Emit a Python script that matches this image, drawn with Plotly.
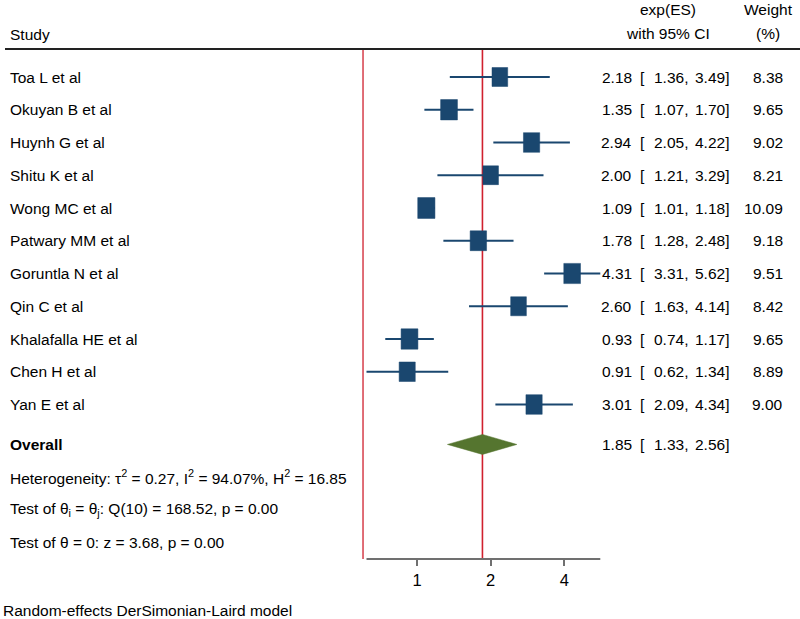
import math
import plotly.graph_objects as go

# ---------------- data ----------------
studies = ["Toa L et al", "Okuyan B et al", "Huynh G et al", "Shitu K et al",
           "Wong MC et al", "Patwary MM et al", "Goruntla N et al", "Qin C et al",
           "Khalafalla HE et al", "Chen H et al", "Yan E et al"]
es = [2.18, 1.35, 2.94, 2.00, 1.09, 1.78, 4.31, 2.60, 0.93, 0.91, 3.01]
lo = [1.36, 1.07, 2.05, 1.21, 1.01, 1.28, 3.31, 1.63, 0.74, 0.62, 2.09]
hi = [3.49, 1.70, 4.22, 3.29, 1.18, 2.48, 5.62, 4.14, 1.17, 1.34, 4.34]
weights = [8.38, 9.65, 9.02, 8.21, 10.09, 9.18, 9.51, 8.42, 9.65, 8.89, 9.00]
overall_es, overall_lo, overall_hi = 1.85, 1.33, 2.56
ref_line = 0.6
tick_vals = [1, 2, 4]
tick_text = ["1", "2", "4"]
stats_lines = [
    "Heterogeneity: τ<sup>2</sup> = 0.27, I<sup>2</sup> = 94.07%, H<sup>2</sup> = 16.85",
    "Test of θ<sub>i</sub> = θ<sub>j</sub>: Q(10) = 168.52, p = 0.00",
    "Test of θ = 0: z = 3.68, p = 0.00",
]
footnote = "Random-effects DerSimonian-Laird model"

# ---------------- styling ----------------
W, H = 800, 619
NAVY = "#1a476f"
GREEN = "#55752f"
RED = "#d0202e"
GRAY = "#707070"
FONT = "Liberation Sans, Arial, sans-serif"
FS = 15.5
PX_PER_DEC = 244.2      # pixels per log10 unit
ROW_PX = 32.75          # pixels per row
PLOT_BOTTOM = 559

rows = list(range(1, len(studies) + 1))
overall_row = len(studies) + 1.22
stat_rows = [overall_row + 1 + k for k in range(len(stats_lines))]

fig = go.Figure()

# CI whiskers
cx, cy = [], []
for r, l, h in zip(rows, lo, hi):
    cx += [l, h, None]
    cy += [r, r, None]
fig.add_trace(go.Scatter(x=cx, y=cy, mode="lines",
                         line=dict(color=NAVY, width=2), hoverinfo="skip"))

# weight boxes (area proportional to weight)
wmax = max(weights)
bx, by = [], []
for r, e, wt in zip(rows, es, weights):
    s = math.sqrt(wt / wmax)
    hw = 8.6 * s / PX_PER_DEC
    hh = 10.4 * s / ROW_PX
    x0, x1 = e * 10 ** (-hw), e * 10 ** hw
    bx += [x0, x1, x1, x0, x0, None]
    by += [r - hh, r - hh, r + hh, r + hh, r - hh, None]
fig.add_trace(go.Scatter(x=bx, y=by, mode="lines", fill="toself",
                         fillcolor=NAVY, line=dict(color=NAVY, width=0.5),
                         hoverinfo="skip"))

# overall diamond
dh = 10 / ROW_PX
fig.add_trace(go.Scatter(
    x=[overall_lo, overall_es, overall_hi, overall_es, overall_lo],
    y=[overall_row, overall_row - dh, overall_row, overall_row + dh, overall_row],
    mode="lines", fill="toself", fillcolor=GREEN,
    line=dict(color=GREEN, width=0.5), hoverinfo="skip"))

shapes = []
# header rule
shapes.append(dict(type="line", xref="paper", yref="paper",
                   x0=5 / W, x1=1, y0=1 - 49 / PLOT_BOTTOM, y1=1 - 49 / PLOT_BOTTOM,
                   line=dict(color="#222222", width=2)))
# reference lines
for xv, wd in [(ref_line, 1.3), (overall_es, 1.6)]:
    shapes.append(dict(type="line", xref="x", yref="paper", x0=xv, x1=xv,
                       y0=0, y1=1 - 49 / PLOT_BOTTOM,
                       line=dict(color=RED, width=wd), layer="below"))
# x axis line spanning the CI range
shapes.append(dict(type="line", xref="x", yref="paper",
                   x0=min(lo), x1=max(hi), y0=0, y1=0,
                   line=dict(color=GRAY, width=2)))

ann = []


def add(text, x, y, xanchor="left", yref="y", bold=False):
    ann.append(dict(text=f"<b>{text}</b>" if bold else text, x=x / W, xref="paper",
                    y=y, yref=yref, xanchor=xanchor, yanchor="middle",
                    showarrow=False, font=dict(family=FONT, size=FS, color="black")))


# headers
add("Study", 8, -0.30)
add("exp(ES)", 668, -1.05, "center")
add("with 95% CI", 668, -0.33, "center")
add("Weight", 768, -1.05, "center")
add("(%)", 768, -0.33, "center")


def ci_cols(r, e, l, h):
    add(f"{e:.2f}", 634, r, "right")
    add("[", 638, r, "left")
    add(f"{l:.2f},", 690, r, "right")
    add(f"{h:.2f}]", 731, r, "right")


for r, name, e, l, h, wt in zip(rows, studies, es, lo, hi, weights):
    add(name, 8, r)
    ci_cols(r, e, l, h)
    add(f"{wt:.2f}", 785, r, "right")

add("Overall", 8, overall_row, bold=True)
ci_cols(overall_row, overall_es, overall_lo, overall_hi)
for r, t in zip(stat_rows, stats_lines):
    add(t, 8, r)

add(footnote, 1, (PLOT_BOTTOM - 610) / PLOT_BOTTOM, yref="paper")

y_top = 1 - 77 / ROW_PX
y_bot = 1 + (PLOT_BOTTOM - 77) / ROW_PX

fig.update_layout(
    width=W, height=H,
    margin=dict(l=0, r=0, t=0, b=H - PLOT_BOTTOM),
    paper_bgcolor="white", plot_bgcolor="white",
    showlegend=False,
    shapes=shapes, annotations=ann,
    xaxis=dict(type="log", domain=[360 / W, 605 / W],
               range=[(360 - 417.2) / PX_PER_DEC, (605 - 417.2) / PX_PER_DEC],
               tickvals=tick_vals, ticktext=tick_text,
               ticks="outside", ticklen=6, tickwidth=1.5, tickcolor=GRAY,
               showgrid=False, zeroline=False, showline=False,
               tickfont=dict(family=FONT, size=FS + 1, color="black")),
    yaxis=dict(range=[y_bot, y_top], visible=False, showgrid=False,
               zeroline=False),
)

fig.write_html("out.html",
               config={"displayModeBar": False},
               post_script="document.body.style.margin='0';"
                           "document.body.style.overflow='hidden';")
